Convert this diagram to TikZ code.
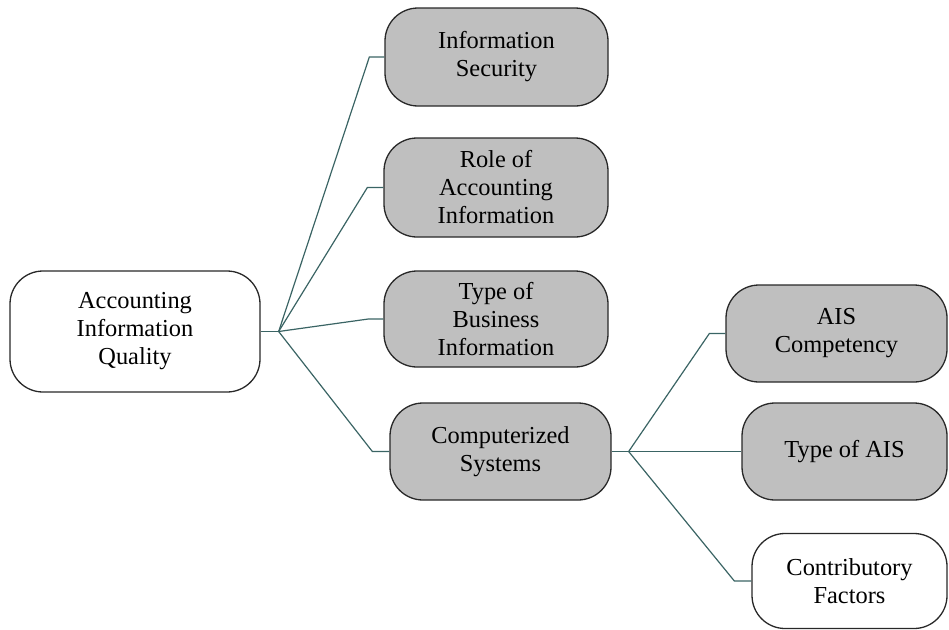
\documentclass[tikz,border=0pt]{standalone}
\usepackage{fontspec}
\setmainfont{Liberation Serif}
\usetikzlibrary{positioning,calc}
\definecolor{cgrey}{RGB}{191,191,191}
\definecolor{cline}{RGB}{58,100,100}
\definecolor{cedge}{RGB}{40,40,40}

\begin{document}
\begin{tikzpicture}[
  x=1pt,y=-1pt,
  font=\fontsize{24.4}{28}\selectfont,
  topic/.style={draw=cedge,line width=1.3pt,rounded corners=33pt,align=center,inner sep=2pt},
  subtopic/.style={topic,fill=cgrey},
  link/.style={draw=cline,line width=1.2pt}
]
  \useasboundingbox (0,0) rectangle (949,629);

  \node[topic,minimum width=250,minimum height=121] (aiq) at (135,331.5)
    {Accounting\\Information\\Quality};

  \node[subtopic,minimum width=223,minimum height=98] (infosec) at (496.5,57)
    {Information\\Security};
  \node[subtopic,minimum width=224,minimum height=99] (role) at (496,187.5)
    {Role of\\Accounting\\Information};
  \node[subtopic,minimum width=224,minimum height=96] (business) at (496,319)
    {Type of\\Business\\Information};
  \node[subtopic,minimum width=221,minimum height=97] (compsys) at (500.5,451.5)
    {Computerized\\Systems};

  \node[subtopic,minimum width=221,minimum height=97] (aiscomp) at (836.5,333.5)
    {AIS\\Competency};
  \node[subtopic,minimum width=205,minimum height=97] (aistype) at (844.5,451.5)
    {Type of AIS};
  \node[topic,minimum width=195,minimum height=95] (factors) at (849.5,581)
    {Contributory\\Factors};

  % first level
  \coordinate (hub1) at ($(aiq.east)+(18,0)$);
  \draw[link] (aiq.east) -- (hub1);
  \draw[link] (hub1) -- ([xshift=-15pt]infosec.west) -- (infosec.west);
  \draw[link] (hub1) -- ([xshift=-16pt]role.west) -- (role.west);
  \draw[link] (hub1) -- ([xshift=-15pt]business.west) -- (business.west);
  \draw[link] (hub1) -- ([xshift=-17pt]compsys.west) -- (compsys.west);

  % second level
  \coordinate (hub2) at ($(compsys.east)+(17,0)$);
  \draw[link] (compsys.east) -- (hub2);
  \draw[link] (hub2) -- ([xshift=-16pt]aiscomp.west) -- (aiscomp.west);
  \draw[link] (hub2) -- (aistype.west);
  \draw[link] (hub2) -- ([xshift=-17pt]factors.west) -- (factors.west);
\end{tikzpicture}
\end{document}
